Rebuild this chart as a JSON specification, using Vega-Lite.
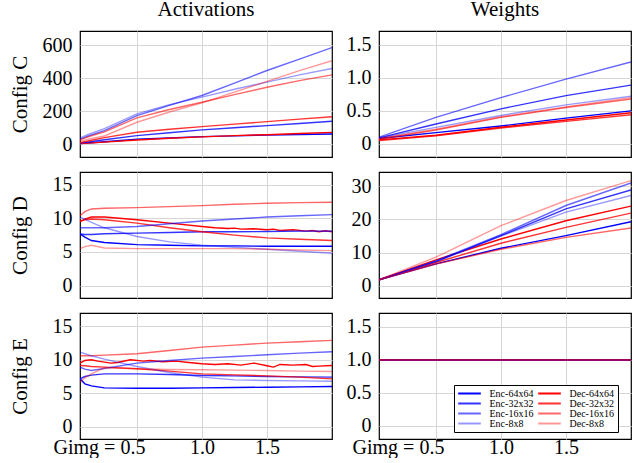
{
"$schema": "https://vega.github.io/schema/vega-lite/v6.json",
"padding": {"left": 8, "top": -2, "right": 5, "bottom": 0},
"background": "white",
"config": {
  "view": {"stroke": "#000", "strokeWidth": 1.2},
  "axis": {"grid": true, "gridColor": "#d6d6d6", "gridWidth": 1, "domain": false, "ticks": false, "labelFont": "Liberation Serif", "labelFontSize": 20, "labelColor": "#000", "titleFont": "Liberation Serif", "titleFontSize": 21, "titleFontWeight": "normal", "titleColor": "#000", "labelFlush": false, "labelOverlap": false},
  "title": {"font": "Liberation Serif", "fontSize": 21, "fontWeight": "normal", "color": "#000", "baseline": "alphabetic", "offset": 11, "anchor": "middle"}
},
"data": {"values": [
{"p":"CA","s":"Enc-64x64","x":0.0625,"y":5},{"p":"CA","s":"Enc-64x64","x":0.125,"y":8},{"p":"CA","s":"Enc-64x64","x":0.25,"y":15},{"p":"CA","s":"Enc-64x64","x":0.5,"y":30},{"p":"CA","s":"Enc-64x64","x":0.75,"y":38},{"p":"CA","s":"Enc-64x64","x":1,"y":46},{"p":"CA","s":"Enc-64x64","x":1.25,"y":51},{"p":"CA","s":"Enc-64x64","x":1.5,"y":56},{"p":"CA","s":"Enc-64x64","x":1.75,"y":59},{"p":"CA","s":"Enc-64x64","x":2,"y":62},
{"p":"CA","s":"Dec-64x64","x":0.0625,"y":4},{"p":"CA","s":"Dec-64x64","x":0.125,"y":7},{"p":"CA","s":"Dec-64x64","x":0.25,"y":13},{"p":"CA","s":"Dec-64x64","x":0.5,"y":26},{"p":"CA","s":"Dec-64x64","x":0.75,"y":36},{"p":"CA","s":"Dec-64x64","x":1,"y":45},{"p":"CA","s":"Dec-64x64","x":1.25,"y":52},{"p":"CA","s":"Dec-64x64","x":1.5,"y":58},{"p":"CA","s":"Dec-64x64","x":1.75,"y":65},{"p":"CA","s":"Dec-64x64","x":2,"y":72},
{"p":"CA","s":"Enc-32x32","x":0.0625,"y":8},{"p":"CA","s":"Enc-32x32","x":0.125,"y":14},{"p":"CA","s":"Enc-32x32","x":0.25,"y":27},{"p":"CA","s":"Enc-32x32","x":0.5,"y":52},{"p":"CA","s":"Enc-32x32","x":0.75,"y":70},{"p":"CA","s":"Enc-32x32","x":1,"y":87},{"p":"CA","s":"Enc-32x32","x":1.25,"y":100},{"p":"CA","s":"Enc-32x32","x":1.5,"y":113},{"p":"CA","s":"Enc-32x32","x":1.75,"y":126},{"p":"CA","s":"Enc-32x32","x":2,"y":139},
{"p":"CA","s":"Dec-32x32","x":0.0625,"y":10},{"p":"CA","s":"Dec-32x32","x":0.125,"y":20},{"p":"CA","s":"Dec-32x32","x":0.25,"y":40},{"p":"CA","s":"Dec-32x32","x":0.5,"y":73},{"p":"CA","s":"Dec-32x32","x":0.75,"y":91},{"p":"CA","s":"Dec-32x32","x":1,"y":107},{"p":"CA","s":"Dec-32x32","x":1.25,"y":122},{"p":"CA","s":"Dec-32x32","x":1.5,"y":137},{"p":"CA","s":"Dec-32x32","x":1.75,"y":152},{"p":"CA","s":"Dec-32x32","x":2,"y":166},
{"p":"CA","s":"Enc-16x16","x":0.0625,"y":30},{"p":"CA","s":"Enc-16x16","x":0.125,"y":50},{"p":"CA","s":"Enc-16x16","x":0.25,"y":82},{"p":"CA","s":"Enc-16x16","x":0.5,"y":173},{"p":"CA","s":"Enc-16x16","x":0.75,"y":235},{"p":"CA","s":"Enc-16x16","x":1,"y":295},{"p":"CA","s":"Enc-16x16","x":1.25,"y":370},{"p":"CA","s":"Enc-16x16","x":1.5,"y":446},{"p":"CA","s":"Enc-16x16","x":1.75,"y":515},{"p":"CA","s":"Enc-16x16","x":2,"y":585},
{"p":"CA","s":"Dec-16x16","x":0.0625,"y":28},{"p":"CA","s":"Dec-16x16","x":0.125,"y":45},{"p":"CA","s":"Dec-16x16","x":0.25,"y":75},{"p":"CA","s":"Dec-16x16","x":0.5,"y":160},{"p":"CA","s":"Dec-16x16","x":0.75,"y":210},{"p":"CA","s":"Dec-16x16","x":1,"y":254},{"p":"CA","s":"Dec-16x16","x":1.25,"y":300},{"p":"CA","s":"Dec-16x16","x":1.5,"y":345},{"p":"CA","s":"Dec-16x16","x":1.75,"y":385},{"p":"CA","s":"Dec-16x16","x":2,"y":420},
{"p":"CA","s":"Enc-8x8","x":0.0625,"y":38},{"p":"CA","s":"Enc-8x8","x":0.125,"y":60},{"p":"CA","s":"Enc-8x8","x":0.25,"y":95},{"p":"CA","s":"Enc-8x8","x":0.5,"y":184},{"p":"CA","s":"Enc-8x8","x":0.75,"y":240},{"p":"CA","s":"Enc-8x8","x":1,"y":285},{"p":"CA","s":"Enc-8x8","x":1.25,"y":333},{"p":"CA","s":"Enc-8x8","x":1.5,"y":376},{"p":"CA","s":"Enc-8x8","x":1.75,"y":420},{"p":"CA","s":"Enc-8x8","x":2,"y":458},
{"p":"CA","s":"Dec-8x8","x":0.0625,"y":18},{"p":"CA","s":"Dec-8x8","x":0.125,"y":30},{"p":"CA","s":"Dec-8x8","x":0.25,"y":50},{"p":"CA","s":"Dec-8x8","x":0.5,"y":133},{"p":"CA","s":"Dec-8x8","x":0.75,"y":195},{"p":"CA","s":"Dec-8x8","x":1,"y":250},{"p":"CA","s":"Dec-8x8","x":1.25,"y":315},{"p":"CA","s":"Dec-8x8","x":1.5,"y":380},{"p":"CA","s":"Dec-8x8","x":1.75,"y":445},{"p":"CA","s":"Dec-8x8","x":2,"y":505},

{"p":"CW","s":"Enc-64x64","x":0.0625,"y":0.08},{"p":"CW","s":"Enc-64x64","x":0.5,"y":0.17},{"p":"CW","s":"Enc-64x64","x":1,"y":0.27},{"p":"CW","s":"Enc-64x64","x":1.5,"y":0.39},{"p":"CW","s":"Enc-64x64","x":2,"y":0.5},
{"p":"CW","s":"Dec-64x64","x":0.0625,"y":0.06},{"p":"CW","s":"Dec-64x64","x":0.5,"y":0.13},{"p":"CW","s":"Dec-64x64","x":1,"y":0.25},{"p":"CW","s":"Dec-64x64","x":1.5,"y":0.36},{"p":"CW","s":"Dec-64x64","x":2,"y":0.47},
{"p":"CW","s":"Enc-32x32","x":0.0625,"y":0.09},{"p":"CW","s":"Enc-32x32","x":0.5,"y":0.3},{"p":"CW","s":"Enc-32x32","x":1,"y":0.53},{"p":"CW","s":"Enc-32x32","x":1.5,"y":0.73},{"p":"CW","s":"Enc-32x32","x":2,"y":0.89},
{"p":"CW","s":"Dec-32x32","x":0.0625,"y":0.05},{"p":"CW","s":"Dec-32x32","x":0.5,"y":0.12},{"p":"CW","s":"Dec-32x32","x":1,"y":0.24},{"p":"CW","s":"Dec-32x32","x":1.5,"y":0.34},{"p":"CW","s":"Dec-32x32","x":2,"y":0.44},
{"p":"CW","s":"Enc-16x16","x":0.0625,"y":0.1},{"p":"CW","s":"Enc-16x16","x":0.5,"y":0.4},{"p":"CW","s":"Enc-16x16","x":1,"y":0.7},{"p":"CW","s":"Enc-16x16","x":1.5,"y":0.98},{"p":"CW","s":"Enc-16x16","x":2,"y":1.24},
{"p":"CW","s":"Dec-16x16","x":0.0625,"y":0.07},{"p":"CW","s":"Dec-16x16","x":0.5,"y":0.21},{"p":"CW","s":"Dec-16x16","x":1,"y":0.4},{"p":"CW","s":"Dec-16x16","x":1.5,"y":0.55},{"p":"CW","s":"Dec-16x16","x":2,"y":0.68},
{"p":"CW","s":"Enc-8x8","x":0.0625,"y":0.09},{"p":"CW","s":"Enc-8x8","x":0.5,"y":0.25},{"p":"CW","s":"Enc-8x8","x":1,"y":0.43},{"p":"CW","s":"Enc-8x8","x":1.5,"y":0.59},{"p":"CW","s":"Enc-8x8","x":2,"y":0.72},
{"p":"CW","s":"Dec-8x8","x":0.0625,"y":0.08},{"p":"CW","s":"Dec-8x8","x":0.5,"y":0.22},{"p":"CW","s":"Dec-8x8","x":1,"y":0.41},{"p":"CW","s":"Dec-8x8","x":1.5,"y":0.56},{"p":"CW","s":"Dec-8x8","x":2,"y":0.7},

{"p":"DA","s":"Enc-64x64","x":0.0625,"y":7.7},{"p":"DA","s":"Enc-64x64","x":0.1,"y":7.2},{"p":"DA","s":"Enc-64x64","x":0.15,"y":6.7},{"p":"DA","s":"Enc-64x64","x":0.25,"y":6.4},{"p":"DA","s":"Enc-64x64","x":0.5,"y":6.1},{"p":"DA","s":"Enc-64x64","x":0.75,"y":6.0},{"p":"DA","s":"Enc-64x64","x":1,"y":5.9},{"p":"DA","s":"Enc-64x64","x":1.25,"y":5.9},{"p":"DA","s":"Enc-64x64","x":1.5,"y":5.85},{"p":"DA","s":"Enc-64x64","x":1.75,"y":5.85},{"p":"DA","s":"Enc-64x64","x":2,"y":5.85},
{"p":"DA","s":"Dec-64x64","x":0.0625,"y":9.5},{"p":"DA","s":"Dec-64x64","x":0.1,"y":9.9},{"p":"DA","s":"Dec-64x64","x":0.15,"y":10.2},{"p":"DA","s":"Dec-64x64","x":0.25,"y":10.2},{"p":"DA","s":"Dec-64x64","x":0.5,"y":9.8},{"p":"DA","s":"Dec-64x64","x":0.75,"y":9.3},{"p":"DA","s":"Dec-64x64","x":1,"y":8.8},{"p":"DA","s":"Dec-64x64","x":1.1,"y":8.6},{"p":"DA","s":"Dec-64x64","x":1.2,"y":8.5},{"p":"DA","s":"Dec-64x64","x":1.25,"y":8.55},{"p":"DA","s":"Dec-64x64","x":1.3,"y":8.4},{"p":"DA","s":"Dec-64x64","x":1.4,"y":8.45},{"p":"DA","s":"Dec-64x64","x":1.5,"y":8.3},{"p":"DA","s":"Dec-64x64","x":1.55,"y":8.4},{"p":"DA","s":"Dec-64x64","x":1.6,"y":8.2},{"p":"DA","s":"Dec-64x64","x":1.7,"y":8.3},{"p":"DA","s":"Dec-64x64","x":1.8,"y":8.1},{"p":"DA","s":"Dec-64x64","x":1.85,"y":8.2},{"p":"DA","s":"Dec-64x64","x":1.9,"y":8.0},{"p":"DA","s":"Dec-64x64","x":1.95,"y":8.15},{"p":"DA","s":"Dec-64x64","x":2,"y":8.0},
{"p":"DA","s":"Enc-32x32","x":0.0625,"y":7.7},{"p":"DA","s":"Enc-32x32","x":0.1,"y":7.6},{"p":"DA","s":"Enc-32x32","x":0.15,"y":7.6},{"p":"DA","s":"Enc-32x32","x":0.25,"y":7.7},{"p":"DA","s":"Enc-32x32","x":0.5,"y":7.8},{"p":"DA","s":"Enc-32x32","x":0.75,"y":7.9},{"p":"DA","s":"Enc-32x32","x":1,"y":8.0},{"p":"DA","s":"Enc-32x32","x":1.25,"y":8.0},{"p":"DA","s":"Enc-32x32","x":1.5,"y":8.05},{"p":"DA","s":"Enc-32x32","x":1.75,"y":8.1},{"p":"DA","s":"Enc-32x32","x":2,"y":8.1},
{"p":"DA","s":"Dec-32x32","x":0.0625,"y":9.6},{"p":"DA","s":"Dec-32x32","x":0.1,"y":9.8},{"p":"DA","s":"Dec-32x32","x":0.15,"y":9.9},{"p":"DA","s":"Dec-32x32","x":0.25,"y":9.8},{"p":"DA","s":"Dec-32x32","x":0.5,"y":9.3},{"p":"DA","s":"Dec-32x32","x":0.75,"y":8.6},{"p":"DA","s":"Dec-32x32","x":1,"y":8.0},{"p":"DA","s":"Dec-32x32","x":1.25,"y":7.5},{"p":"DA","s":"Dec-32x32","x":1.5,"y":7.1},{"p":"DA","s":"Dec-32x32","x":1.75,"y":6.9},{"p":"DA","s":"Dec-32x32","x":2,"y":6.7},
{"p":"DA","s":"Enc-16x16","x":0.0625,"y":8.6},{"p":"DA","s":"Enc-16x16","x":0.1,"y":8.6},{"p":"DA","s":"Enc-16x16","x":0.15,"y":8.6},{"p":"DA","s":"Enc-16x16","x":0.25,"y":8.6},{"p":"DA","s":"Enc-16x16","x":0.5,"y":8.8},{"p":"DA","s":"Enc-16x16","x":0.75,"y":9.2},{"p":"DA","s":"Enc-16x16","x":1,"y":9.6},{"p":"DA","s":"Enc-16x16","x":1.25,"y":9.9},{"p":"DA","s":"Enc-16x16","x":1.5,"y":10.2},{"p":"DA","s":"Enc-16x16","x":1.75,"y":10.4},{"p":"DA","s":"Enc-16x16","x":2,"y":10.55},
{"p":"DA","s":"Dec-16x16","x":0.0625,"y":10.4},{"p":"DA","s":"Dec-16x16","x":0.1,"y":11.0},{"p":"DA","s":"Dec-16x16","x":0.15,"y":11.4},{"p":"DA","s":"Dec-16x16","x":0.25,"y":11.5},{"p":"DA","s":"Dec-16x16","x":0.5,"y":11.6},{"p":"DA","s":"Dec-16x16","x":0.75,"y":11.75},{"p":"DA","s":"Dec-16x16","x":1,"y":11.9},{"p":"DA","s":"Dec-16x16","x":1.25,"y":12.1},{"p":"DA","s":"Dec-16x16","x":1.5,"y":12.25},{"p":"DA","s":"Dec-16x16","x":1.75,"y":12.35},{"p":"DA","s":"Dec-16x16","x":2,"y":12.4},
{"p":"DA","s":"Enc-8x8","x":0.0625,"y":10.2},{"p":"DA","s":"Enc-8x8","x":0.1,"y":9.9},{"p":"DA","s":"Enc-8x8","x":0.15,"y":9.4},{"p":"DA","s":"Enc-8x8","x":0.25,"y":8.6},{"p":"DA","s":"Enc-8x8","x":0.5,"y":7.3},{"p":"DA","s":"Enc-8x8","x":0.75,"y":6.5},{"p":"DA","s":"Enc-8x8","x":1,"y":6.0},{"p":"DA","s":"Enc-8x8","x":1.25,"y":5.7},{"p":"DA","s":"Enc-8x8","x":1.5,"y":5.4},{"p":"DA","s":"Enc-8x8","x":1.75,"y":5.1},{"p":"DA","s":"Enc-8x8","x":2,"y":4.8},
{"p":"DA","s":"Dec-8x8","x":0.0625,"y":5.5},{"p":"DA","s":"Dec-8x8","x":0.1,"y":5.8},{"p":"DA","s":"Dec-8x8","x":0.15,"y":6.0},{"p":"DA","s":"Dec-8x8","x":0.25,"y":5.6},{"p":"DA","s":"Dec-8x8","x":0.5,"y":5.5},{"p":"DA","s":"Dec-8x8","x":0.75,"y":5.5},{"p":"DA","s":"Dec-8x8","x":1,"y":5.5},{"p":"DA","s":"Dec-8x8","x":1.25,"y":5.5},{"p":"DA","s":"Dec-8x8","x":1.5,"y":5.4},{"p":"DA","s":"Dec-8x8","x":1.75,"y":5.3},{"p":"DA","s":"Dec-8x8","x":2,"y":5.2},

{"p":"DW","s":"Enc-64x64","x":0.0625,"y":1.8},{"p":"DW","s":"Enc-64x64","x":0.5,"y":6.6},{"p":"DW","s":"Enc-64x64","x":1,"y":11.3},{"p":"DW","s":"Enc-64x64","x":1.5,"y":15.1},{"p":"DW","s":"Enc-64x64","x":2,"y":19.3},
{"p":"DW","s":"Dec-64x64","x":0.0625,"y":1.8},{"p":"DW","s":"Dec-64x64","x":0.5,"y":7.8},{"p":"DW","s":"Dec-64x64","x":1,"y":14.1},{"p":"DW","s":"Dec-64x64","x":1.5,"y":19.6},{"p":"DW","s":"Dec-64x64","x":2,"y":24.0},
{"p":"DW","s":"Enc-32x32","x":0.0625,"y":1.8},{"p":"DW","s":"Enc-32x32","x":0.5,"y":7.3},{"p":"DW","s":"Enc-32x32","x":1,"y":15.1},{"p":"DW","s":"Enc-32x32","x":1.5,"y":23.2},{"p":"DW","s":"Enc-32x32","x":2,"y":28.9},
{"p":"DW","s":"Dec-32x32","x":0.0625,"y":1.8},{"p":"DW","s":"Dec-32x32","x":0.5,"y":7.0},{"p":"DW","s":"Dec-32x32","x":1,"y":12.8},{"p":"DW","s":"Dec-32x32","x":1.5,"y":17.6},{"p":"DW","s":"Dec-32x32","x":2,"y":21.9},
{"p":"DW","s":"Enc-16x16","x":0.0625,"y":1.8},{"p":"DW","s":"Enc-16x16","x":0.5,"y":7.5},{"p":"DW","s":"Enc-16x16","x":1,"y":15.4},{"p":"DW","s":"Enc-16x16","x":1.5,"y":24.2},{"p":"DW","s":"Enc-16x16","x":2,"y":31.0},
{"p":"DW","s":"Dec-16x16","x":0.0625,"y":1.8},{"p":"DW","s":"Dec-16x16","x":0.5,"y":6.5},{"p":"DW","s":"Dec-16x16","x":1,"y":11.0},{"p":"DW","s":"Dec-16x16","x":1.5,"y":14.6},{"p":"DW","s":"Dec-16x16","x":2,"y":17.4},
{"p":"DW","s":"Enc-8x8","x":0.0625,"y":1.8},{"p":"DW","s":"Enc-8x8","x":0.5,"y":7.2},{"p":"DW","s":"Enc-8x8","x":1,"y":15.0},{"p":"DW","s":"Enc-8x8","x":1.5,"y":22.2},{"p":"DW","s":"Enc-8x8","x":2,"y":27.2},
{"p":"DW","s":"Dec-8x8","x":0.0625,"y":1.8},{"p":"DW","s":"Dec-8x8","x":0.5,"y":8.6},{"p":"DW","s":"Dec-8x8","x":1,"y":18.1},{"p":"DW","s":"Dec-8x8","x":1.5,"y":25.7},{"p":"DW","s":"Dec-8x8","x":2,"y":31.7},

{"p":"EA","s":"Enc-64x64","x":0.0625,"y":7.15},{"p":"EA","s":"Enc-64x64","x":0.1,"y":6.4},{"p":"EA","s":"Enc-64x64","x":0.15,"y":6.1},{"p":"EA","s":"Enc-64x64","x":0.25,"y":5.8},{"p":"EA","s":"Enc-64x64","x":0.5,"y":5.75},{"p":"EA","s":"Enc-64x64","x":0.75,"y":5.75},{"p":"EA","s":"Enc-64x64","x":1,"y":5.8},{"p":"EA","s":"Enc-64x64","x":1.25,"y":5.85},{"p":"EA","s":"Enc-64x64","x":1.5,"y":5.9},{"p":"EA","s":"Enc-64x64","x":1.75,"y":5.95},{"p":"EA","s":"Enc-64x64","x":2,"y":6.0},
{"p":"EA","s":"Dec-64x64","x":0.0625,"y":9.5},{"p":"EA","s":"Dec-64x64","x":0.1,"y":9.9},{"p":"EA","s":"Dec-64x64","x":0.15,"y":10.0},{"p":"EA","s":"Dec-64x64","x":0.2,"y":9.8},{"p":"EA","s":"Dec-64x64","x":0.3,"y":9.5},{"p":"EA","s":"Dec-64x64","x":0.35,"y":9.6},{"p":"EA","s":"Dec-64x64","x":0.45,"y":10.0},{"p":"EA","s":"Dec-64x64","x":0.55,"y":9.8},{"p":"EA","s":"Dec-64x64","x":0.6,"y":9.9},{"p":"EA","s":"Dec-64x64","x":0.7,"y":9.7},{"p":"EA","s":"Dec-64x64","x":0.8,"y":9.8},{"p":"EA","s":"Dec-64x64","x":0.9,"y":9.6},{"p":"EA","s":"Dec-64x64","x":1,"y":9.4},{"p":"EA","s":"Dec-64x64","x":1.1,"y":9.3},{"p":"EA","s":"Dec-64x64","x":1.2,"y":9.4},{"p":"EA","s":"Dec-64x64","x":1.3,"y":9.2},{"p":"EA","s":"Dec-64x64","x":1.4,"y":9.5},{"p":"EA","s":"Dec-64x64","x":1.5,"y":9.1},{"p":"EA","s":"Dec-64x64","x":1.55,"y":8.9},{"p":"EA","s":"Dec-64x64","x":1.6,"y":9.3},{"p":"EA","s":"Dec-64x64","x":1.7,"y":9.2},{"p":"EA","s":"Dec-64x64","x":1.8,"y":9.3},{"p":"EA","s":"Dec-64x64","x":1.85,"y":9.0},{"p":"EA","s":"Dec-64x64","x":1.9,"y":9.05},{"p":"EA","s":"Dec-64x64","x":2,"y":9.15},
{"p":"EA","s":"Enc-32x32","x":0.0625,"y":7.15},{"p":"EA","s":"Enc-32x32","x":0.1,"y":7.5},{"p":"EA","s":"Enc-32x32","x":0.15,"y":7.7},{"p":"EA","s":"Enc-32x32","x":0.25,"y":7.9},{"p":"EA","s":"Enc-32x32","x":0.5,"y":7.9},{"p":"EA","s":"Enc-32x32","x":0.75,"y":7.8},{"p":"EA","s":"Enc-32x32","x":1,"y":7.65},{"p":"EA","s":"Enc-32x32","x":1.25,"y":7.6},{"p":"EA","s":"Enc-32x32","x":1.5,"y":7.5},{"p":"EA","s":"Enc-32x32","x":1.75,"y":7.45},{"p":"EA","s":"Enc-32x32","x":2,"y":7.4},
{"p":"EA","s":"Dec-32x32","x":0.0625,"y":9.15},{"p":"EA","s":"Dec-32x32","x":0.1,"y":9.1},{"p":"EA","s":"Dec-32x32","x":0.15,"y":9.0},{"p":"EA","s":"Dec-32x32","x":0.25,"y":8.9},{"p":"EA","s":"Dec-32x32","x":0.5,"y":8.65},{"p":"EA","s":"Dec-32x32","x":0.75,"y":8.3},{"p":"EA","s":"Dec-32x32","x":1,"y":7.9},{"p":"EA","s":"Dec-32x32","x":1.25,"y":7.75},{"p":"EA","s":"Dec-32x32","x":1.5,"y":7.6},{"p":"EA","s":"Dec-32x32","x":1.75,"y":7.4},{"p":"EA","s":"Dec-32x32","x":2,"y":7.15},
{"p":"EA","s":"Enc-16x16","x":0.0625,"y":8.9},{"p":"EA","s":"Enc-16x16","x":0.1,"y":8.6},{"p":"EA","s":"Enc-16x16","x":0.15,"y":8.4},{"p":"EA","s":"Enc-16x16","x":0.25,"y":8.7},{"p":"EA","s":"Enc-16x16","x":0.5,"y":9.5},{"p":"EA","s":"Enc-16x16","x":0.75,"y":9.9},{"p":"EA","s":"Enc-16x16","x":1,"y":10.25},{"p":"EA","s":"Enc-16x16","x":1.25,"y":10.5},{"p":"EA","s":"Enc-16x16","x":1.5,"y":10.75},{"p":"EA","s":"Enc-16x16","x":1.75,"y":11.0},{"p":"EA","s":"Enc-16x16","x":2,"y":11.2},
{"p":"EA","s":"Dec-16x16","x":0.0625,"y":10.6},{"p":"EA","s":"Dec-16x16","x":0.1,"y":10.6},{"p":"EA","s":"Dec-16x16","x":0.15,"y":10.6},{"p":"EA","s":"Dec-16x16","x":0.25,"y":10.7},{"p":"EA","s":"Dec-16x16","x":0.5,"y":10.9},{"p":"EA","s":"Dec-16x16","x":0.75,"y":11.4},{"p":"EA","s":"Dec-16x16","x":1,"y":11.9},{"p":"EA","s":"Dec-16x16","x":1.25,"y":12.2},{"p":"EA","s":"Dec-16x16","x":1.5,"y":12.5},{"p":"EA","s":"Dec-16x16","x":1.75,"y":12.7},{"p":"EA","s":"Dec-16x16","x":2,"y":12.9},
{"p":"EA","s":"Enc-8x8","x":0.0625,"y":11.15},{"p":"EA","s":"Enc-8x8","x":0.1,"y":10.9},{"p":"EA","s":"Enc-8x8","x":0.15,"y":10.6},{"p":"EA","s":"Enc-8x8","x":0.25,"y":10.1},{"p":"EA","s":"Enc-8x8","x":0.5,"y":9.0},{"p":"EA","s":"Enc-8x8","x":0.75,"y":8.1},{"p":"EA","s":"Enc-8x8","x":1,"y":7.4},{"p":"EA","s":"Enc-8x8","x":1.25,"y":7.0},{"p":"EA","s":"Enc-8x8","x":1.5,"y":6.9},{"p":"EA","s":"Enc-8x8","x":1.75,"y":6.85},{"p":"EA","s":"Enc-8x8","x":2,"y":6.8},
{"p":"EA","s":"Dec-8x8","x":0.0625,"y":6.65},{"p":"EA","s":"Dec-8x8","x":0.1,"y":7.3},{"p":"EA","s":"Dec-8x8","x":0.15,"y":7.9},{"p":"EA","s":"Dec-8x8","x":0.25,"y":8.8},{"p":"EA","s":"Dec-8x8","x":0.5,"y":8.65},{"p":"EA","s":"Dec-8x8","x":0.75,"y":8.55},{"p":"EA","s":"Dec-8x8","x":1,"y":8.5},{"p":"EA","s":"Dec-8x8","x":1.25,"y":8.45},{"p":"EA","s":"Dec-8x8","x":1.5,"y":8.4},{"p":"EA","s":"Dec-8x8","x":1.75,"y":8.3},{"p":"EA","s":"Dec-8x8","x":2,"y":8.25},

{"p":"EW","s":"Enc-64x64","x":0.0625,"y":1},{"p":"EW","s":"Enc-64x64","x":2,"y":1},
{"p":"EW","s":"Dec-64x64","x":0.0625,"y":1},{"p":"EW","s":"Dec-64x64","x":2,"y":1},
{"p":"EW","s":"Enc-32x32","x":0.0625,"y":1},{"p":"EW","s":"Enc-32x32","x":2,"y":1},
{"p":"EW","s":"Dec-32x32","x":0.0625,"y":1},{"p":"EW","s":"Dec-32x32","x":2,"y":1},
{"p":"EW","s":"Enc-16x16","x":0.0625,"y":1},{"p":"EW","s":"Enc-16x16","x":2,"y":1},
{"p":"EW","s":"Dec-16x16","x":0.0625,"y":1},{"p":"EW","s":"Dec-16x16","x":2,"y":1},
{"p":"EW","s":"Enc-8x8","x":0.0625,"y":1},{"p":"EW","s":"Enc-8x8","x":2,"y":1},
{"p":"EW","s":"Dec-8x8","x":0.0625,"y":1},{"p":"EW","s":"Dec-8x8","x":2,"y":1}
]},
"columns": 2,
"spacing": {"row": 15, "column": 47},
"bounds": "flush",
"resolve": {"scale": {"color": "independent"}, "legend": {"color": "independent"}},
"concat": [
{"width": 252, "height": 126, "title": "Activations",
 "transform": [{"filter": {"field": "p", "equal": "CA"}}],
 "mark": {"type": "line", "strokeWidth": 1.4, "clip": true},
 "encoding": {
  "x": {"field": "x", "type": "quantitative", "scale": {"domain": [0.0625, 2], "nice": false, "zero": false}, "axis": {"values": [0.5, 1, 1.5], "labels": false, "title": null}},
  "y": {"field": "y", "type": "quantitative", "scale": {"domain": [-77, 685], "nice": false, "zero": false}, "axis": {"values": [0, 200, 400, 600], "labelPadding": 8, "title": "Config C", "titleX": -60, "titleY": 63, "titleBaseline": "middle", "titleAngle": -90, "titleAlign": "center"}},
  "color": {"field": "s", "type": "nominal", "scale": {"domain": ["Enc-64x64","Enc-32x32","Enc-16x16","Enc-8x8","Dec-64x64","Dec-32x32","Dec-16x16","Dec-8x8"], "range": ["rgba(0,0,255,1)","rgba(0,0,255,0.8)","rgba(0,0,255,0.6)","rgba(0,0,255,0.4)","rgba(255,0,0,1)","rgba(255,0,0,0.8)","rgba(255,0,0,0.6)","rgba(255,0,0,0.4)"]}, "legend": null}
 }},
{"width": 252, "height": 126, "title": "Weights",
 "transform": [{"filter": {"field": "p", "equal": "CW"}}],
 "mark": {"type": "line", "strokeWidth": 1.4, "clip": true},
 "encoding": {
  "x": {"field": "x", "type": "quantitative", "scale": {"domain": [0.0625, 2], "nice": false, "zero": false}, "axis": {"values": [0.5, 1, 1.5], "labels": false, "title": null}},
  "y": {"field": "y", "type": "quantitative", "scale": {"domain": [-0.2, 1.71], "nice": false, "zero": false}, "axis": {"values": [0, 0.5, 1, 1.5], "labelPadding": 8, "labelExpr": "datum.value == 0 ? '0' : format(datum.value, '.1f')", "title": null}},
  "color": {"field": "s", "type": "nominal", "scale": {"domain": ["Enc-64x64","Enc-32x32","Enc-16x16","Enc-8x8","Dec-64x64","Dec-32x32","Dec-16x16","Dec-8x8"], "range": ["rgba(0,0,255,1)","rgba(0,0,255,0.8)","rgba(0,0,255,0.6)","rgba(0,0,255,0.4)","rgba(255,0,0,1)","rgba(255,0,0,0.8)","rgba(255,0,0,0.6)","rgba(255,0,0,0.4)"]}, "legend": null}
 }},
{"width": 252, "height": 126,
 "transform": [{"filter": {"field": "p", "equal": "DA"}}],
 "mark": {"type": "line", "strokeWidth": 1.4, "clip": true},
 "encoding": {
  "x": {"field": "x", "type": "quantitative", "scale": {"domain": [0.0625, 2], "nice": false, "zero": false}, "axis": {"values": [0.5, 1, 1.5], "labels": false, "title": null}},
  "y": {"field": "y", "type": "quantitative", "scale": {"domain": [-1.85, 16.9], "nice": false, "zero": false}, "axis": {"values": [0, 5, 10, 15], "labelPadding": 8, "title": "Config D", "titleX": -60, "titleY": 63, "titleBaseline": "middle", "titleAngle": -90, "titleAlign": "center"}},
  "color": {"field": "s", "type": "nominal", "scale": {"domain": ["Enc-64x64","Enc-32x32","Enc-16x16","Enc-8x8","Dec-64x64","Dec-32x32","Dec-16x16","Dec-8x8"], "range": ["rgba(0,0,255,1)","rgba(0,0,255,0.8)","rgba(0,0,255,0.6)","rgba(0,0,255,0.4)","rgba(255,0,0,1)","rgba(255,0,0,0.8)","rgba(255,0,0,0.6)","rgba(255,0,0,0.4)"]}, "legend": null}
 }},
{"width": 252, "height": 126,
 "transform": [{"filter": {"field": "p", "equal": "DW"}}],
 "mark": {"type": "line", "strokeWidth": 1.4, "clip": true},
 "encoding": {
  "x": {"field": "x", "type": "quantitative", "scale": {"domain": [0.0625, 2], "nice": false, "zero": false}, "axis": {"values": [0.5, 1, 1.5], "labels": false, "title": null}},
  "y": {"field": "y", "type": "quantitative", "scale": {"domain": [-3.7, 34.3], "nice": false, "zero": false}, "axis": {"values": [0, 10, 20, 30], "labelPadding": 8, "title": null}},
  "color": {"field": "s", "type": "nominal", "scale": {"domain": ["Enc-64x64","Enc-32x32","Enc-16x16","Enc-8x8","Dec-64x64","Dec-32x32","Dec-16x16","Dec-8x8"], "range": ["rgba(0,0,255,1)","rgba(0,0,255,0.8)","rgba(0,0,255,0.6)","rgba(0,0,255,0.4)","rgba(255,0,0,1)","rgba(255,0,0,0.8)","rgba(255,0,0,0.6)","rgba(255,0,0,0.4)"]}, "legend": null}
 }},
{"width": 252, "height": 126,
 "transform": [{"filter": {"field": "p", "equal": "EA"}}],
 "mark": {"type": "line", "strokeWidth": 1.4, "clip": true},
 "encoding": {
  "x": {"field": "x", "type": "quantitative", "scale": {"domain": [0.0625, 2], "nice": false, "zero": false}, "axis": {"values": [0.5, 1, 1.5], "labelPadding": -2, "title": null, "labelExpr": "datum.value == 0.5 ? 'Gimg = 0.5' : format(datum.value, '.1f')", "labelAlign": {"condition": {"test": "datum.value == 0.5", "value": "right"}, "value": "center"}, "labelOffset": {"condition": {"test": "datum.value == 0.5", "value": 8}, "value": 0}}},
  "y": {"field": "y", "type": "quantitative", "scale": {"domain": [-1.85, 17.0], "nice": false, "zero": false}, "axis": {"values": [0, 5, 10, 15], "labelPadding": 8, "title": "Config E", "titleX": -60, "titleY": 63, "titleBaseline": "middle", "titleAngle": -90, "titleAlign": "center"}},
  "color": {"field": "s", "type": "nominal", "scale": {"domain": ["Enc-64x64","Enc-32x32","Enc-16x16","Enc-8x8","Dec-64x64","Dec-32x32","Dec-16x16","Dec-8x8"], "range": ["rgba(0,0,255,1)","rgba(0,0,255,0.8)","rgba(0,0,255,0.6)","rgba(0,0,255,0.4)","rgba(255,0,0,1)","rgba(255,0,0,0.8)","rgba(255,0,0,0.6)","rgba(255,0,0,0.4)"]}, "legend": null}
 }},
{"width": 252, "height": 126,
 "transform": [{"filter": {"field": "p", "equal": "EW"}}],
 "mark": {"type": "line", "strokeWidth": 1.4, "clip": true},
 "encoding": {
  "x": {"field": "x", "type": "quantitative", "scale": {"domain": [0.0625, 2], "nice": false, "zero": false}, "axis": {"values": [0.5, 1, 1.5], "labelPadding": -2, "title": null, "labelExpr": "datum.value == 0.5 ? 'Gimg = 0.5' : format(datum.value, '.1f')", "labelAlign": {"condition": {"test": "datum.value == 0.5", "value": "right"}, "value": "center"}, "labelOffset": {"condition": {"test": "datum.value == 0.5", "value": 8}, "value": 0}}},
  "y": {"field": "y", "type": "quantitative", "scale": {"domain": [-0.2, 1.71], "nice": false, "zero": false}, "axis": {"values": [0, 0.5, 1, 1.5], "labelPadding": 8, "labelExpr": "datum.value == 0 ? '0' : format(datum.value, '.1f')", "title": null}},
  "color": {"field": "s", "type": "nominal", "scale": {"domain": ["Enc-64x64","Enc-32x32","Enc-16x16","Enc-8x8","Dec-64x64","Dec-32x32","Dec-16x16","Dec-8x8"], "range": ["rgba(0,0,255,1)","rgba(0,0,255,0.8)","rgba(0,0,255,0.6)","rgba(0,0,255,0.4)","rgba(255,0,0,1)","rgba(255,0,0,0.8)","rgba(255,0,0,0.6)","rgba(255,0,0,0.4)"]}, "legend": {"orient": "none", "legendX": 75, "legendY": 72, "columns": 2, "title": null, "symbolType": "M-2.83,0H2.83", "symbolSize": 64, "symbolStrokeWidth": 2, "labelFont": "Liberation Serif", "labelFontSize": 10, "labelColor": "#000", "labelOffset": 15, "symbolOffset": 7, "columnPadding": 0, "rowPadding": -0.5, "padding": 3.5, "strokeColor": "#000", "fillColor": "#fff", "cornerRadius": 0}}
 }}
]
}
